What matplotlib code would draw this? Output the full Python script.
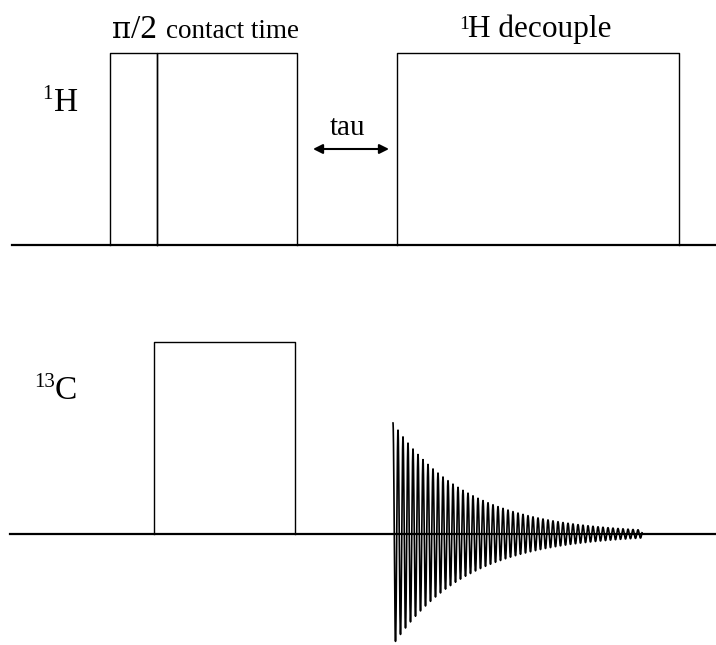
import numpy as np
import matplotlib.pyplot as plt

# pulse timing (start, end) on each channel, drawing units along the time axis
h_pulses = [(110, 157), (157, 297), (397, 679)]
c_pulses = [(154, 295)]
pulse_height = 192

# channel baselines (y measured downward from the top)
h_base = 245
c_base = 534

# free induction decay on the carbon channel
fid_start = 393
fid_end = 642
fid_amp = 111
fid_decay = 75
fid_period = 5

# tau delay between contact and decoupling
tau_span = (313, 389)

plt.rcParams['font.family'] = ['Liberation Serif', 'DejaVu Serif']

fig = plt.figure(figsize=(7.16, 6.45), dpi=100)
ax = fig.add_axes([0, 0, 1, 1])
ax.set_xlim(0, 716)
ax.set_ylim(645, 0)
ax.axis('off')

# baselines
ax.plot([12, 716], [h_base, h_base], color='black', lw=1.6)
ax.plot([10, 716], [c_base, c_base], color='black', lw=1.6)


def draw_pulse(start, end, base):
    top = base - pulse_height
    ax.plot([start, start, end, end], [base, top, top, base],
            color='black', lw=1.0)


for s, e in h_pulses:
    draw_pulse(s, e, h_base)
for s, e in c_pulses:
    draw_pulse(s, e, c_base)

# FID
t = np.linspace(0, fid_end - fid_start, 6000)
sig = fid_amp * np.exp(-t / fid_decay) * np.cos(2 * np.pi * t / fid_period)
ax.plot(fid_start + t, c_base - sig, color='black', lw=1.2)

# tau arrow
ax.annotate('', xy=(tau_span[1], 149), xytext=(tau_span[0], 149),
            arrowprops=dict(arrowstyle='<|-|>', color='black', lw=1.5,
                            mutation_scale=14, shrinkA=0, shrinkB=0))
ax.text(348, 135, 'tau', fontsize=21, ha='center', va='baseline')

# labels above the proton channel
ax.text(112, 38, 'π', fontsize=21, ha='left', va='baseline',
        family='DejaVu Serif')
ax.text(131, 38, '/2', fontsize=24, ha='left', va='baseline')
ax.text(166, 38, 'contact time', fontsize=19.5, ha='left', va='baseline')
ax.text(459, 29, '1', fontsize=14, ha='left', va='baseline')
ax.text(468, 37, 'H decouple', fontsize=22.5, ha='left', va='baseline')

# channel names
ax.text(42, 99, '1', fontsize=15, ha='left', va='baseline')
ax.text(54, 111, 'H', fontsize=24, ha='left', va='baseline')
ax.text(34, 387, '13', fontsize=15, ha='left', va='baseline')
ax.text(55, 399, 'C', fontsize=24, ha='left', va='baseline')

fig.savefig('out.png', dpi=100)
